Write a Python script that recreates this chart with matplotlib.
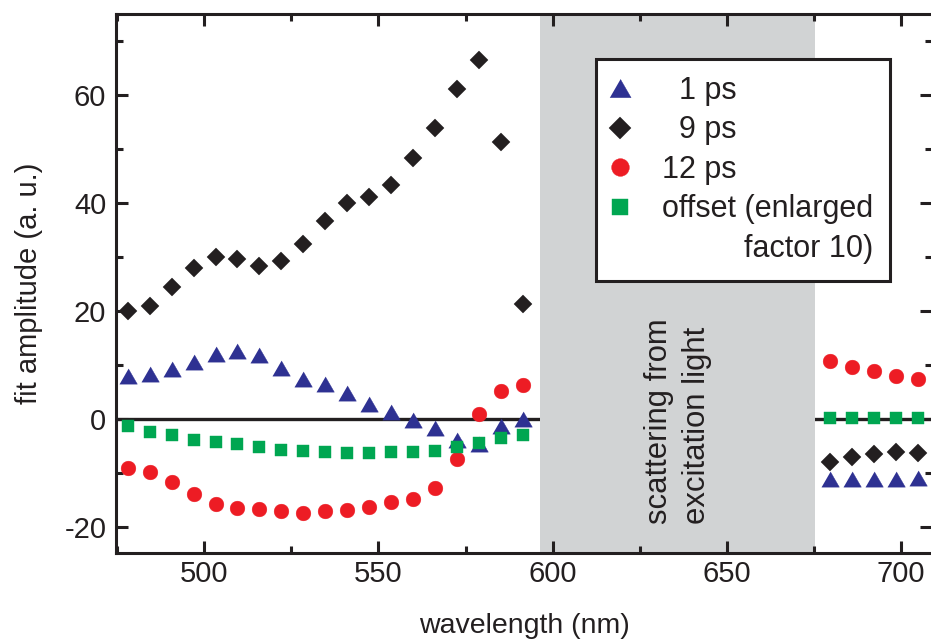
import numpy as np
import matplotlib
matplotlib.use('Agg')
import matplotlib.pyplot as plt
from matplotlib.lines import Line2D
from matplotlib.ticker import MultipleLocator

plt.rcParams['font.family'] = ['Liberation Sans', 'DejaVu Sans']
plt.rcParams['axes.unicode_minus'] = False

# wavelengths of the fitted points (nm), below and above the pump region
wl_blue = [478.0, 484.3, 490.6, 496.9, 503.2, 509.5, 515.8, 522.1, 528.4, 534.7,
           541.0, 547.3, 553.6, 559.9, 566.2, 572.5, 578.8, 585.1, 591.4]
wl_red = [679.8, 686.1, 692.4, 698.7, 705.0]

# fit amplitudes (a. u.)
amp_1ps = [7.9, 8.4, 9.2, 10.5, 12.0, 12.5, 11.8, 9.4, 7.3, 6.4,
           4.8, 2.8, 1.2, -0.2, -1.7, -4.0, -4.7, -1.4, 0.0]
amp_1ps_red = [-11.2, -11.1, -11.1, -11.1, -10.9]

amp_9ps = [20.0, 21.0, 24.5, 28.0, 30.0, 29.6, 28.4, 29.3, 32.4, 36.7,
           40.0, 41.2, 43.3, 48.3, 53.9, 61.1, 66.6, 51.3, 21.3]
amp_9ps_red = [-8.1, -7.0, -6.5, -6.2, -6.4]

amp_12ps = [-9.2, -9.8, -11.8, -14.0, -15.8, -16.6, -16.7, -17.2, -17.4, -17.2,
            -17.0, -16.4, -15.4, -14.8, -12.9, -7.4, 0.9, 5.1, 6.3]
amp_12ps_red = [10.8, 9.6, 8.8, 7.9, 7.3]

amp_offset = [-1.4, -2.5, -3.0, -3.9, -4.3, -4.7, -5.2, -5.7, -6.0, -6.2,
              -6.3, -6.4, -6.2, -6.2, -5.9, -5.3, -4.5, -3.5, -3.1]
amp_offset_red = [0.1, 0.1, 0.1, 0.1, 0.1]

# spectral range hidden by scattered pump light
scatter_range = (596.5, 675.5)

c_blue = '#2e3192'
c_black = '#231f20'
c_red = '#ed1c24'
c_green = '#00a651'
c_gray = '#d1d3d4'

tri = [(-1, -0.866), (1, -0.866), (0, 0.866)]

series = [
    (amp_1ps, amp_1ps_red, tri, 12.7, c_blue, '  1 ps'),
    (amp_9ps, amp_9ps_red, 'D', 9.0, c_black, '  9 ps'),
    (amp_12ps, amp_12ps_red, 'o', 10.6, c_red, '12 ps'),
    (amp_offset, amp_offset_red, 's', 9.1, c_green, 'offset (enlarged'),
]

fig = plt.figure(figsize=(9.31, 6.43), dpi=100)
ax = fig.add_axes([116 / 931, 1 - 553 / 643, 816 / 931, 539 / 643])

ax.axhline(0, color=c_black, lw=2.4, zorder=1)
ax.axvspan(*scatter_range, color=c_gray, lw=0, zorder=1.5)

handles = []
labels = []
for blue_part, red_part, mk, ms, col, lab in series:
    x = np.concatenate([wl_blue, wl_red])
    y = np.concatenate([blue_part, red_part])
    h, = ax.plot(x, y, ls='none', marker=mk, ms=ms, color=col, mec=col,
                 mew=0.3, zorder=3)
    handles.append(h)
    labels.append(lab)
# second line of the offset label gets an empty handle
handles.append(Line2D([], [], ls='none', marker=None))
labels.append('factor 10)')

ax.text(np.mean(scatter_range), -19.5, 'scattering from\nexcitation light',
        rotation=90, ha='center', va='bottom', multialignment='left',
        fontsize=22.3, color=c_black, linespacing=1.37, zorder=2)

ax.set_xlim(474.6, 709.0)
ax.set_ylim(-24.9, 75.1)
ax.xaxis.set_major_locator(MultipleLocator(50))
ax.xaxis.set_minor_locator(MultipleLocator(25))
ax.yaxis.set_major_locator(MultipleLocator(20))
ax.yaxis.set_minor_locator(MultipleLocator(10))

ax.tick_params(which='both', direction='in', top=True, right=True,
               width=2.2, color=c_black, labelsize=21, labelcolor=c_black)
ax.tick_params(which='major', length=8.6)
ax.tick_params(which='minor', length=5)
ax.tick_params(axis='x', pad=5)
ax.tick_params(axis='y', pad=7)
for sp in ax.spines.values():
    sp.set_linewidth(2.2)
    sp.set_color(c_black)

ax.set_xlabel('wavelength (nm)', fontsize=20.5, color=c_black, labelpad=18)
ax.set_ylabel('fit amplitude (a. u.)', fontsize=21, color=c_black, labelpad=15)

fs = 22
leg = ax.legend(handles=handles, labels=labels, loc='upper left',
                bbox_to_anchor=(596 / 931, 1 - 59 / 643),
                bbox_transform=fig.transFigure, borderaxespad=0,
                fontsize=fs, markerscale=1.2, handlelength=0.45,
                handletextpad=1.15, borderpad=0.55, labelspacing=0.31,
                fancybox=False, framealpha=1, edgecolor=c_black)
leg.get_frame().set_linewidth(2.2)
leg.set_zorder(5)
for t in leg.get_texts():
    t.set_color(c_black)

# right-align "factor 10)" under "offset (enlarged"
fig.canvas.draw()
rend = fig.canvas.get_renderer()
txts = leg.get_texts()
w_top = txts[3].get_window_extent(rend).width
w_bot = txts[4].get_window_extent(rend).width
txts[4].set_x(w_top - w_bot)

fig.savefig('out.png', dpi=100)
